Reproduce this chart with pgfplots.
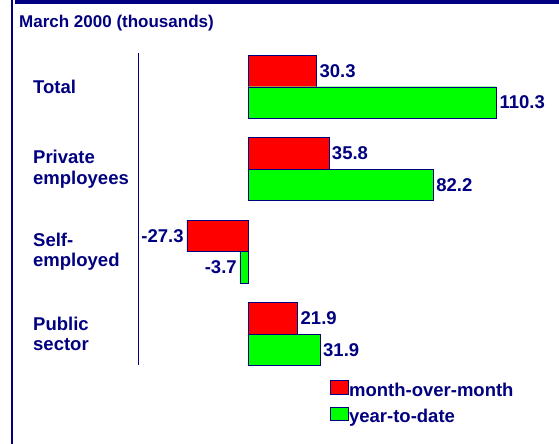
\documentclass[border=0pt]{standalone}
\usepackage{fontspec}
\setmainfont{Liberation Sans}
\usepackage{pgfplots}
\pgfplotsset{compat=1.18}
\definecolor{navy}{RGB}{0,0,128}
\definecolor{barred}{RGB}{255,0,0}
\definecolor{bargreen}{RGB}{0,255,0}
\begin{document}
\begin{tikzpicture}[font=\fontsize{18.5bp}{20.7bp}\selectfont\bfseries]
\useasboundingbox (0,0) rectangle (559bp,444bp);
\fill[white] (0,0) rectangle (559bp,444bp);
\draw[navy, line width=1.5bp] (12bp,0) -- (12bp,444bp);
\draw[navy, line width=4bp] (15bp,442bp) -- (559bp,442bp);
\node[anchor=base west, text=navy, inner sep=0pt, font=\fontsize{17bp}{20bp}\selectfont\bfseries] at (19bp,416bp) {March 2000 (thousands)};
\begin{axis}[
  at={(138bp,79bp)}, anchor=south west,
  scale only axis, width=402bp, height=312bp,
  xbar, bar width=0.382,
  xmin=-49, xmax=129.7,
  ymin=-0.409, ymax=3.376, y dir=reverse,
  hide x axis,
  axis y line*=left,
  y axis line style={navy, line width=1bp},
  ytick={0,1,2,3},
  yticklabels={Total,{Private\\employees},{Self-\\employed},{Public\\sector}},
  major tick length=0pt,
  yticklabel style={anchor=west, xshift=-105bp, align=left, inner sep=0pt, text=navy, font=\fontsize{18.5bp}{20.7bp}\selectfont\bfseries},
  nodes near coords,
  every node near coord/.append style={text=navy, inner sep=3bp, font=\fontsize{18.5bp}{20.7bp}\selectfont\bfseries},
  /pgf/number format/fixed, /pgf/number format/fixed zerofill, /pgf/number format/precision=1,
  /pgf/number format/assume math mode=true,
  legend cell align=left,
  legend style={at={(0.4776,-0.048)}, anchor=north west, draw=none, fill=none, inner sep=0pt,
    row sep=8bp, column sep=0pt,
    nodes={inner sep=0.5bp, text=navy, text height=0.75em, text depth=0.2em, font=\fontsize{18.5bp}{20.7bp}\selectfont\bfseries}},
  legend image code/.code={\draw[#1] (0bp,-0.5bp) rectangle (18bp,13bp);},
]
\addplot[fill=barred, draw=navy, bar shift=-0.191] coordinates {(30.3,0) (35.8,1) (-27.3,2) (21.9,3)};
\addplot[fill=bargreen, draw=navy, bar shift=0.191] coordinates {(110.3,0) (82.2,1) (-3.7,2) (31.9,3)};
\legend{month-over-month, year-to-date}
\end{axis}
\end{tikzpicture}
\end{document}
